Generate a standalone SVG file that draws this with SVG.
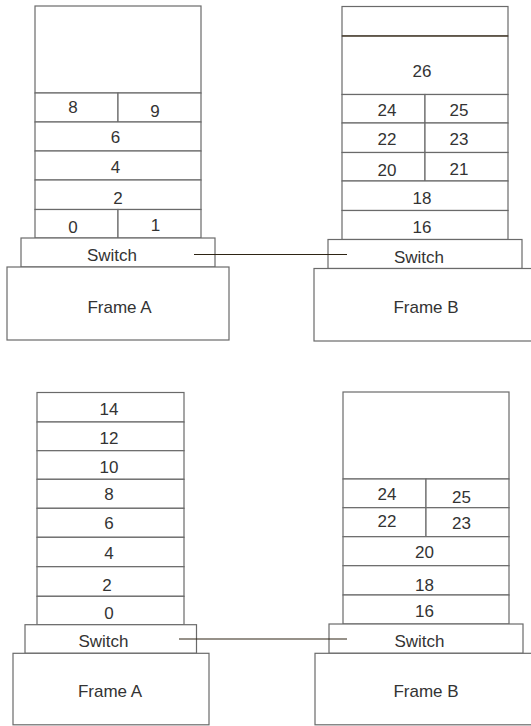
<svg xmlns="http://www.w3.org/2000/svg" width="531" height="726" viewBox="0 0 531 726">
<style>
.b{fill:#fff;stroke:#6a6a6a;stroke-width:1.2}
.t{font-family:"Liberation Sans",Arial,sans-serif;font-size:17px;fill:#333;text-anchor:middle}
.c{stroke:#2e2414;stroke-width:1.2;fill:none}
</style>
<rect width="531" height="726" fill="#fff"/>
<!-- Top left stack -->
<g id="tl-empty"><rect class="b" x="35" y="6" width="166" height="87"/></g>
<g id="tl-8"><rect class="b" x="35" y="93" width="83" height="29"/><text class="t" x="73" y="113">8</text></g>
<g id="tl-9"><rect class="b" x="118" y="93" width="83" height="29"/><text class="t" x="155" y="116.5">9</text></g>
<g id="tl-6"><rect class="b" x="35" y="122" width="166" height="29"/><text class="t" x="115.5" y="143">6</text></g>
<g id="tl-4"><rect class="b" x="35" y="151" width="166" height="29"/><text class="t" x="115.5" y="172.5">4</text></g>
<g id="tl-2"><rect class="b" x="35" y="180" width="166" height="29.5"/><text class="t" x="118" y="204">2</text></g>
<g id="tl-0"><rect class="b" x="35" y="209.5" width="83" height="28.5"/><text class="t" x="73" y="232.5">0</text></g>
<g id="tl-1"><rect class="b" x="118" y="209.5" width="83" height="28.5"/><text class="t" x="155.5" y="231">1</text></g>
<g id="tl-switch"><rect class="b" x="21" y="238" width="194" height="29"/><text class="t" x="112" y="260.5">Switch</text></g>
<g id="tl-frame"><rect class="b" x="7" y="267" width="222" height="73"/><text class="t" x="119.5" y="313">Frame A</text></g>
<!-- Top right stack -->
<g id="tr-empty"><rect class="b" x="342" y="6.5" width="166" height="29.5"/></g>
<g id="tr-26"><rect class="b" x="342" y="36" width="166" height="58.5"/><line x1="342" y1="36" x2="508" y2="36" stroke="#3a2a12" stroke-width="1"/><text class="t" x="422" y="76.5">26</text></g>
<g id="tr-24"><rect class="b" x="342" y="94.5" width="83" height="28.5"/><text class="t" x="387" y="115.5">24</text></g>
<g id="tr-25"><rect class="b" x="425" y="94.5" width="83" height="28.5"/><text class="t" x="459" y="115.5">25</text></g>
<g id="tr-22"><rect class="b" x="342" y="123" width="83" height="29.5"/><text class="t" x="387" y="145">22</text></g>
<g id="tr-23"><rect class="b" x="425" y="123" width="83" height="29.5"/><text class="t" x="459" y="145">23</text></g>
<g id="tr-20"><rect class="b" x="342" y="152.5" width="83" height="28.5"/><text class="t" x="387" y="175.5">20</text></g>
<g id="tr-21"><rect class="b" x="425" y="152.5" width="83" height="28.5"/><text class="t" x="459" y="174.5">21</text></g>
<g id="tr-18"><rect class="b" x="342" y="181" width="166" height="29.5"/><text class="t" x="422" y="204">18</text></g>
<g id="tr-16"><rect class="b" x="342" y="210.5" width="166" height="29"/><text class="t" x="422" y="233">16</text></g>
<g id="tr-switch"><rect class="b" x="328" y="239.5" width="194" height="29"/><text class="t" x="419" y="263">Switch</text></g>
<g id="tr-frame"><rect class="b" x="314" y="268.5" width="224" height="72.5"/><text class="t" x="426" y="312.5">Frame B</text></g>
<!-- Bottom left stack -->
<g id="bl-14"><rect class="b" x="37" y="392.5" width="147" height="29.5"/><text class="t" x="109" y="414.5">14</text></g>
<g id="bl-12"><rect class="b" x="37" y="422" width="147" height="28.7"/><text class="t" x="109" y="444">12</text></g>
<g id="bl-10"><rect class="b" x="37" y="450.7" width="147" height="28.6"/><text class="t" x="109" y="472.5">10</text></g>
<g id="bl-8"><rect class="b" x="37" y="479.3" width="147" height="29"/><text class="t" x="109" y="500">8</text></g>
<g id="bl-6"><rect class="b" x="37" y="508.3" width="147" height="29"/><text class="t" x="109" y="529">6</text></g>
<g id="bl-4"><rect class="b" x="37" y="537.3" width="147" height="29.4"/><text class="t" x="109" y="558.5">4</text></g>
<g id="bl-2"><rect class="b" x="37" y="566.7" width="147" height="29.6"/><text class="t" x="107" y="590.5">2</text></g>
<g id="bl-0"><rect class="b" x="37" y="596.3" width="147" height="28.4"/><text class="t" x="109" y="619">0</text></g>
<g id="bl-switch"><rect class="b" x="25" y="624.7" width="171.5" height="28.6"/><text class="t" x="103.5" y="646.5">Switch</text></g>
<g id="bl-frame"><rect class="b" x="13" y="653.3" width="196" height="71.5"/><text class="t" x="110" y="696.5">Frame A</text></g>
<!-- Bottom right stack -->
<g id="br-empty"><rect class="b" x="343" y="392" width="166" height="87"/></g>
<g id="br-24"><rect class="b" x="343" y="479" width="83" height="28.7"/><text class="t" x="387" y="500">24</text></g>
<g id="br-25"><rect class="b" x="426" y="479" width="83" height="28.7"/><text class="t" x="461.5" y="503">25</text></g>
<g id="br-22"><rect class="b" x="343" y="507.7" width="83" height="29"/><text class="t" x="387" y="526.5">22</text></g>
<g id="br-23"><rect class="b" x="426" y="507.7" width="83" height="29"/><text class="t" x="461.5" y="529">23</text></g>
<g id="br-20"><rect class="b" x="343" y="536.7" width="166" height="29"/><text class="t" x="424.5" y="558">20</text></g>
<g id="br-18"><rect class="b" x="343" y="565.7" width="166" height="29.3"/><text class="t" x="424.5" y="591">18</text></g>
<g id="br-16"><rect class="b" x="343" y="595" width="166" height="29"/><text class="t" x="424.5" y="616.5">16</text></g>
<g id="br-switch"><rect class="b" x="329" y="624" width="194" height="29.3"/><text class="t" x="419.5" y="646.5">Switch</text></g>
<g id="br-frame"><rect class="b" x="315" y="653.3" width="223" height="71.5"/><text class="t" x="426" y="696.5">Frame B</text></g>
<!-- Connectors -->
<g id="connectors">
<line class="c" x1="194" y1="254.5" x2="347" y2="254.5"/>
<line class="c" x1="179" y1="639" x2="347" y2="639"/>
</g>
</svg>
